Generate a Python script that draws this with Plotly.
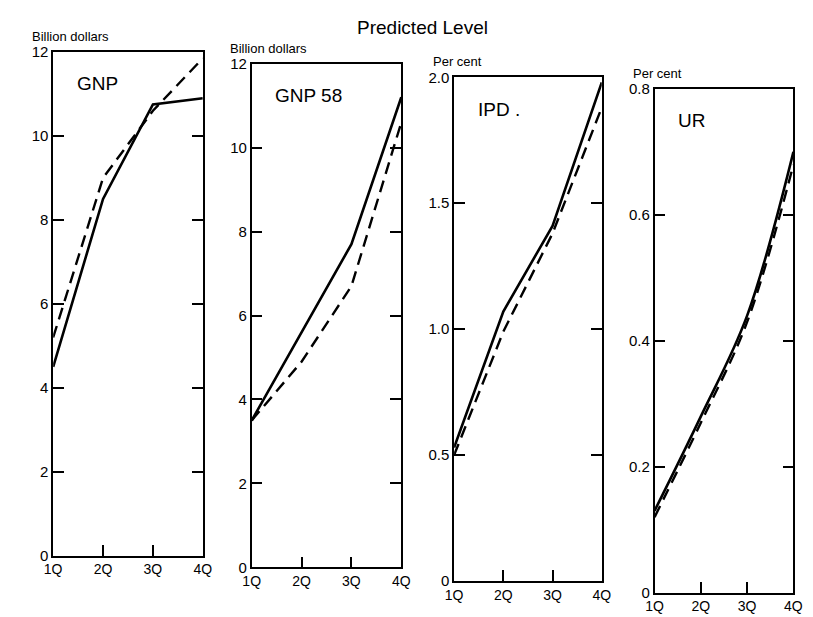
import plotly.graph_objects as go

# ---- data ----
quarters = [1, 2, 3, 4]
quarter_labels = ["1Q", "2Q", "3Q", "4Q"]

gnp_solid = [4.5, 8.5, 10.75, 10.9]
gnp_dashed = [5.2, 9.0, 10.6, 11.85]
gnp58_solid = [3.5, 5.6, 7.7, 11.2]
gnp58_dashed = [3.5, 4.9, 6.7, 10.6]
ipd_solid = [0.53, 1.07, 1.41, 1.98]
ipd_dashed = [0.50, 0.99, 1.38, 1.88]
ur_solid = [0.13, 0.28, 0.44, 0.70]
ur_dashed = [0.12, 0.27, 0.43, 0.68]

panel_names = ["GNP", "GNP 58", "IPD .", "UR"]
unit_labels = ["Billion dollars", "Billion dollars", "Per cent", "Per cent"]
ytick_vals = [
    [0, 2, 4, 6, 8, 10, 12],
    [0, 2, 4, 6, 8, 10, 12],
    [0, 0.5, 1.0, 1.5, 2.0],
    [0, 0.2, 0.4, 0.6, 0.8],
]
ytick_text = [
    ["0", "2", "4", "6", "8", "10", "12"],
    ["0", "2", "4", "6", "8", "10", "12"],
    ["0", "0.5", "1.0", "1.5", "2.0"],
    ["0", "0.2", "0.4", "0.6", "0.8"],
]
y_max = [12, 12, 2.0, 0.8]
line_shapes = ["linear", "linear", "linear", "spline"]
title_text = "Predicted Level"

solids = [gnp_solid, gnp58_solid, ipd_solid, ur_solid]
dasheds = [gnp_dashed, gnp58_dashed, ipd_dashed, ur_dashed]

# ---- layout (pixel boxes of each panel) ----
W, H = 813, 617
boxes = [  # left, right, top, bottom in px
    (37, 190, 36, 554),
    (240, 393, 48, 566),
    (447, 598, 62, 580),
    (652, 794, 74, 592),
]

fig = go.Figure()
font_family = "Liberation Sans, Arial, sans-serif"
annotations = []

for i in range(4):
    xa = "x" if i == 0 else f"x{i+1}"
    ya = "y" if i == 0 else f"y{i+1}"
    fig.add_trace(go.Scatter(x=quarters, y=solids[i], mode="lines",
                             line=dict(color="black", width=2.6, shape=line_shapes[i]),
                             xaxis=xa, yaxis=ya, showlegend=False, hoverinfo="skip"))
    fig.add_trace(go.Scatter(x=quarters, y=dasheds[i], mode="lines",
                             line=dict(color="black", width=2.4, dash="12px,7px",
                                       shape=line_shapes[i]),
                             xaxis=xa, yaxis=ya, showlegend=False, hoverinfo="skip"))
    l, r, t, b = boxes[i]
    xd = [l / W, r / W]
    yd = [1 - b / H, 1 - t / H]
    key = "" if i == 0 else str(i + 1)
    fig.layout["xaxis" + key] = dict(
        domain=xd, range=[1, 4], anchor=ya, tickvals=quarters, ticktext=quarter_labels,
        showline=True, linecolor="black", linewidth=1.6, mirror=True,
        ticks="inside", ticklen=11, tickwidth=1.5, tickcolor="black",
        showgrid=False, zeroline=False, fixedrange=True,
        tickfont=dict(family=font_family, size=14, color="black"),
    )
    fig.layout["yaxis" + key] = dict(
        domain=yd, range=[0, y_max[i]], anchor=xa, tickvals=ytick_vals[i], ticktext=ytick_text[i],
        showline=True, linecolor="black", linewidth=1.6, mirror="ticks",
        ticks="inside", ticklen=11, tickwidth=1.5, tickcolor="black",
        showgrid=False, zeroline=False, fixedrange=True,
        tickfont=dict(family=font_family, size=15, color="black"),
    )
    annotations.append(dict(
        text=unit_labels[i], xref="paper", yref="paper",
        x=(l - 24) / W, y=1 - (t - 6) / H, xanchor="left", yanchor="bottom",
        showarrow=False, font=dict(family=font_family, size=13, color="black"),
    ))
    annotations.append(dict(
        text=panel_names[i], xref="paper", yref="paper",
        x=(l + 22) / W, y=1 - (t + 20) / H, xanchor="left", yanchor="top",
        showarrow=False, font=dict(family=font_family, size=19, color="black"),
    ))

annotations.append(dict(
    text=title_text, xref="paper", yref="paper", x=415 / W, y=1.0,
    xanchor="center", yanchor="top", showarrow=False, yshift=2,
    font=dict(family=font_family, size=19, color="black"),
))

fig.update_layout(
    width=W, height=H, margin=dict(l=0, r=0, t=0, b=0),
    paper_bgcolor="white", plot_bgcolor="white",
    annotations=annotations, showlegend=False,
)

fig.write_html("out.html")
